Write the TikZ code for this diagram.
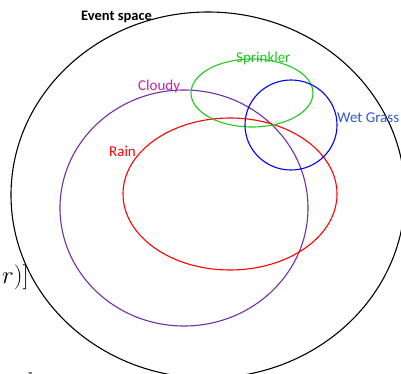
\documentclass[tikz,border=0pt]{standalone}
\usepackage{fontspec}
\setmainfont{Carlito}
\begin{document}
\begin{tikzpicture}[x=1pt,y=-1pt,
  setline/.style={line width=1.1pt},
  lbl/.style={inner sep=0pt,anchor=base west,font=\fontsize{15}{18}\selectfont}]
\useasboundingbox (0,0) rectangle (401,374);
\begin{scope}
\clip (0,0) rectangle (401,374);
\draw[setline,black] (208,195) ellipse [x radius=197,y radius=183];
\draw[setline,color={rgb,255:red,112;green,48;blue,160}] (184,208) ellipse [x radius=124,y radius=118];
\draw[setline,red] (230,194) ellipse [x radius=107,y radius=76];
\draw[setline,color={rgb,255:red,30;green,200;blue,30}] (252,93) ellipse [x radius=61,y radius=34];
\draw[setline,blue] (291,125) ellipse [x radius=46,y radius=45];
\node[lbl,font=\fontsize{14.5}{17}\selectfont\bfseries] (ev) at (81,21) {Event space};
\node[lbl,text={rgb,255:red,34;green,195;blue,34}] (spr) at (236,63) {Sprinkler};
\node[lbl,text={rgb,255:red,200;green,33;blue,158}] (cl) at (138,91) {Cloudy};
\node[lbl,text=red] (rn) at (109,157) {Rain};
\node[lbl,text={rgb,255:red,46;green,91;blue,214}] (wg) at (337,123) {Wet Grass};
\node[inner sep=0pt,anchor=base west,font=\fontsize{33}{40}\selectfont] (m1) at (2,283) {$r)]$};
\node[inner sep=0pt,anchor=base west,font=\fontsize{33}{40}\selectfont] (m2) at (10,391) {$x\,]$};
\end{scope}
\end{tikzpicture}
\end{document}
